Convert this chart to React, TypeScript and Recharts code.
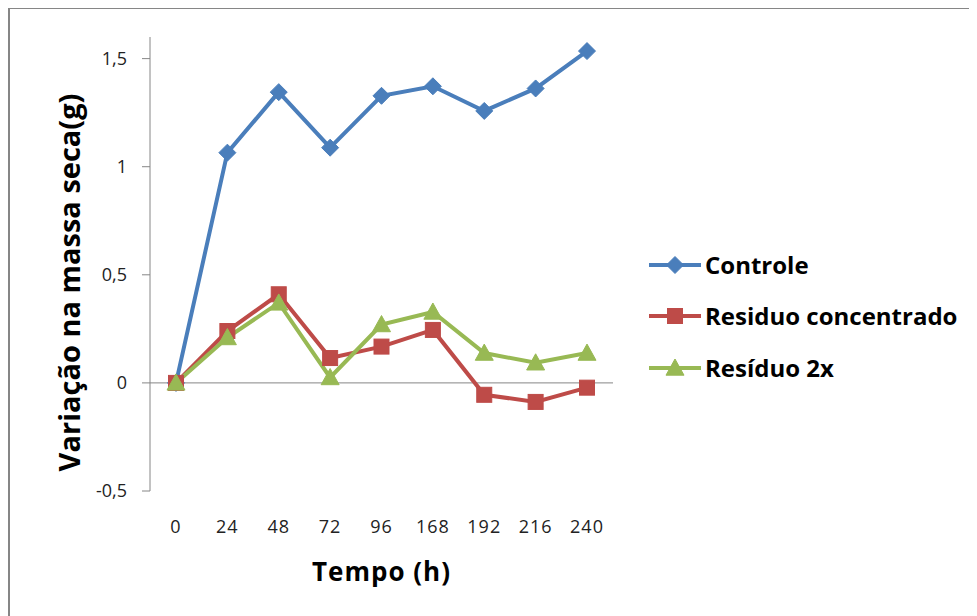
import React from "react";
import { LineChart, Line, XAxis, YAxis, ReferenceLine, Label } from "recharts";

const tempos = ["0", "24", "48", "72", "96", "168", "192", "216", "240"];
const controle = [0, 1.065, 1.345, 1.088, 1.328, 1.372, 1.258, 1.362, 1.535];
const residuoConcentrado = [0, 0.24, 0.41, 0.115, 0.168, 0.245, -0.055, -0.088, -0.022];
const residuo2x = [0, 0.21, 0.37, 0.025, 0.27, 0.328, 0.138, 0.093, 0.138];
const yTicks = [-0.5, 0, 0.5, 1, 1.5];

const data = tempos.map((t, i) => ({
  tempo: t,
  controle: controle[i],
  concentrado: residuoConcentrado[i],
  dobro: residuo2x[i],
}));

const BLUE = "#4a7ebb";
const RED = "#be4b48";
const GREEN = "#98b954";
const FONT = "'Open Sans', sans-serif";

type Shape = "diamond" | "square" | "triangle";

const marker = (shape: Shape, cx: number, cy: number, color: string, key?: string) => {
  if (shape === "diamond") {
    const r = 8.5;
    return (
      <path
        key={key}
        d={`M${cx},${cy - r}L${cx + r},${cy}L${cx},${cy + r}L${cx - r},${cy}Z`}
        fill={color}
        stroke={color}
      />
    );
  }
  if (shape === "square") {
    const h = 7.5;
    return <rect key={key} x={cx - h} y={cy - h} width={h * 2} height={h * 2} fill={color} stroke={color} />;
  }
  const s = 9;
  return (
    <path
      key={key}
      d={`M${cx},${cy - s}L${cx + s},${cy + s * 0.8}L${cx - s},${cy + s * 0.8}Z`}
      fill={color}
      stroke={color}
    />
  );
};

const series = [
  { key: "controle", name: "Controle", color: BLUE, shape: "diamond" as Shape },
  { key: "concentrado", name: "Residuo concentrado", color: RED, shape: "square" as Shape },
  { key: "dobro", name: "Resíduo 2x", color: GREEN, shape: "triangle" as Shape },
];

// legend kept outside the chart so it doesn't eat plot space
const LegendBox = () => (
  <div style={{ position: "absolute", left: 638, top: 230, width: 340, fontFamily: FONT }}>
    {series.map((s) => (
      <div key={s.key} style={{ display: "flex", alignItems: "center", height: 51.5 }}>
        <svg width={56} height={22}>
          <line x1={1} y1={11} x2={53} y2={11} stroke={s.color} strokeWidth={4} />
          {marker(s.shape, 27, 11, s.color)}
        </svg>
        <span style={{ fontSize: 24, fontWeight: 700, color: "#000", marginLeft: 1, lineHeight: "24px" }}>
          {s.name}
        </span>
      </div>
    ))}
  </div>
);

export default function App() {
  return (
    <div
      style={{
        position: "relative",
        top: -1,
        width: 980,
        height: 620,
        borderTop: "2px solid #868686",
        borderLeft: "2px solid #868686",
        background: "#fff",
      }}
    >
      <LineChart
        width={980}
        height={620}
        data={data}
        margin={{ top: 28, right: 377, left: 80, bottom: 108 }}
      >
        <XAxis
          dataKey="tempo"
          padding={{ left: 26, right: 26 }}
          axisLine={false}
          tickLine={false}
          height={30}
          tickMargin={23}
          interval={0}
          tick={{ fontSize: 18, fill: "#222", fontFamily: FONT, letterSpacing: 1 }}
        >
          <Label
            content={({ viewBox }: any) => (
              <text
                x={viewBox.x + viewBox.width / 2}
                y={viewBox.y + viewBox.height + 50}
                textAnchor="middle"
                dominantBaseline="central"
                fontFamily={FONT}
                fontSize={26}
                fontWeight={700}
                letterSpacing={1}
                fill="#000"
              >
                Tempo (h)
              </text>
            )}
          />
        </XAxis>
        <YAxis
          width={60}
          domain={[-0.5, 1.6]}
          ticks={yTicks}
          allowDataOverflow
          tickSize={8}
          tickMargin={15}
          axisLine={{ stroke: "#868686" }}
          tickLine={{ stroke: "#868686" }}
          tickFormatter={(v: number) => String(v).replace(".", ",")}
          tick={{ fontSize: 18, fill: "#222", fontFamily: FONT }}
        >
          <Label
            content={({ viewBox }: any) => {
              const x = viewBox.x - 22;
              const y = viewBox.y + viewBox.height / 2 + 18.5;
              return (
                <text
                  x={x}
                  y={y}
                  transform={`rotate(-90, ${x}, ${y})`}
                  textAnchor="middle"
                  dominantBaseline="central"
                  fontFamily={FONT}
                  fontSize={29}
                  fontWeight={700}
                  fill="#000"
                >
                  Variação na massa seca(g)
                </text>
              );
            }}
          />
        </YAxis>
        <ReferenceLine y={0} stroke="#868686" strokeWidth={1} />
        {series.map((s) => (
          <Line
            key={s.key}
            type="linear"
            dataKey={s.key}
            name={s.name}
            stroke={s.color}
            strokeWidth={4}
            isAnimationActive={false}
            dot={(p: any) => marker(s.shape, p.cx, p.cy, s.color, `${s.key}-${p.index}`)}
            activeDot={false}
          />
        ))}
      </LineChart>
      <LegendBox />
    </div>
  );
}
